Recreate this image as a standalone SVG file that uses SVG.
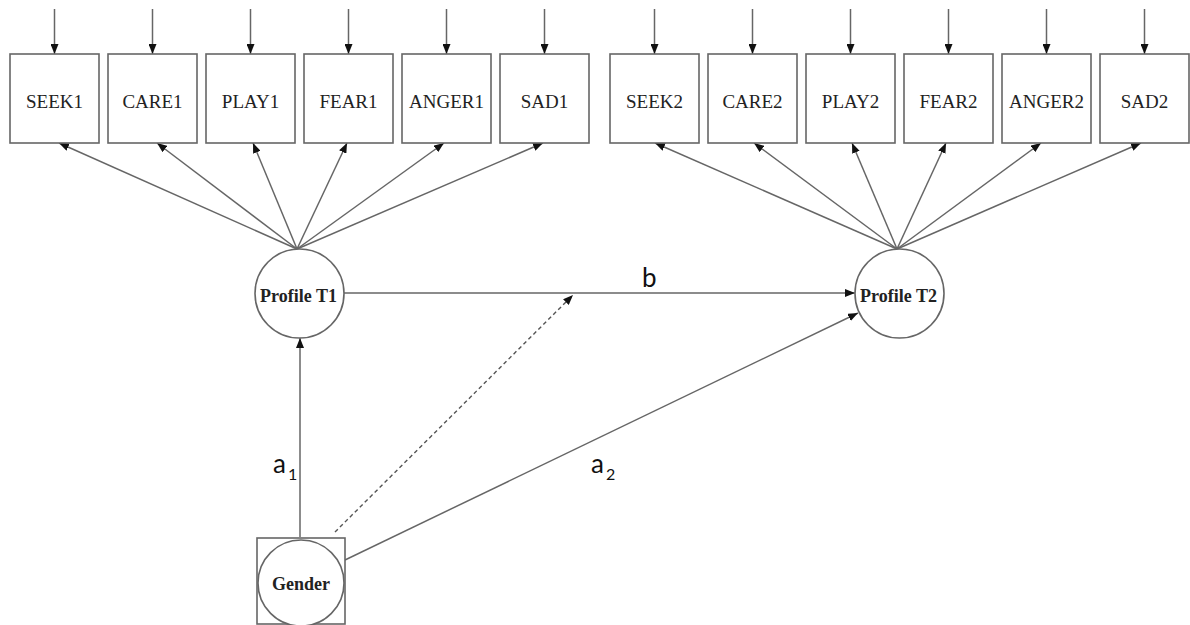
<svg xmlns="http://www.w3.org/2000/svg" width="1190" height="625" viewBox="0 0 1190 625">
<style>
.box{fill:#fff;stroke:#666;stroke-width:1.6}
.lat{fill:#fff;stroke:#666;stroke-width:1.6}
.ln{fill:none;stroke:#666;stroke-width:1.5}
.dash{fill:none;stroke:#555;stroke-width:1.4;stroke-dasharray:4 3}
.ind{font-family:"Liberation Serif","Times New Roman",serif;font-size:19px;fill:#222;text-anchor:middle}
.latt{font-family:"Liberation Serif","Times New Roman",serif;font-size:18px;font-weight:bold;fill:#222;text-anchor:middle}
.pl{font-family:Lato,"Open Sans",sans-serif;font-size:26px;fill:#111}
.sub{font-family:Lato,"Open Sans",sans-serif;font-size:16px;fill:#111}
</style>
<defs>
<marker id="ah" markerWidth="10" markerHeight="8" refX="10" refY="4" orient="auto" markerUnits="userSpaceOnUse">
<path d="M0,0 L10,4 L0,8 z" fill="#111"/>
</marker>
</defs>

<g id="connectors">
<!-- error arrows -->
<line class="ln" x1="54.5" y1="9" x2="54.5" y2="54" marker-end="url(#ah)"/>
<line class="ln" x1="152.5" y1="9" x2="152.5" y2="54" marker-end="url(#ah)"/>
<line class="ln" x1="250.5" y1="9" x2="250.5" y2="54" marker-end="url(#ah)"/>
<line class="ln" x1="348.5" y1="9" x2="348.5" y2="54" marker-end="url(#ah)"/>
<line class="ln" x1="446.5" y1="9" x2="446.5" y2="54" marker-end="url(#ah)"/>
<line class="ln" x1="544.5" y1="9" x2="544.5" y2="54" marker-end="url(#ah)"/>
<line class="ln" x1="654.5" y1="9" x2="654.5" y2="54" marker-end="url(#ah)"/>
<line class="ln" x1="752.5" y1="9" x2="752.5" y2="54" marker-end="url(#ah)"/>
<line class="ln" x1="850.5" y1="9" x2="850.5" y2="54" marker-end="url(#ah)"/>
<line class="ln" x1="948.5" y1="9" x2="948.5" y2="54" marker-end="url(#ah)"/>
<line class="ln" x1="1046.5" y1="9" x2="1046.5" y2="54" marker-end="url(#ah)"/>
<line class="ln" x1="1144.5" y1="9" x2="1144.5" y2="54" marker-end="url(#ah)"/>
<!-- loadings T1 -->
<line class="ln" x1="297" y1="249" x2="59" y2="143" marker-end="url(#ah)"/>
<line class="ln" x1="297" y1="249" x2="157" y2="143" marker-end="url(#ah)"/>
<line class="ln" x1="297" y1="249" x2="253" y2="143" marker-end="url(#ah)"/>
<line class="ln" x1="297" y1="249" x2="347" y2="143" marker-end="url(#ah)"/>
<line class="ln" x1="297" y1="249" x2="444" y2="143" marker-end="url(#ah)"/>
<line class="ln" x1="297" y1="249" x2="543" y2="143" marker-end="url(#ah)"/>
<!-- loadings T2 -->
<line class="ln" x1="897" y1="249" x2="655" y2="143" marker-end="url(#ah)"/>
<line class="ln" x1="897" y1="249" x2="754" y2="143" marker-end="url(#ah)"/>
<line class="ln" x1="897" y1="249" x2="852" y2="143" marker-end="url(#ah)"/>
<line class="ln" x1="897" y1="249" x2="946" y2="143" marker-end="url(#ah)"/>
<line class="ln" x1="897" y1="249" x2="1041" y2="143" marker-end="url(#ah)"/>
<line class="ln" x1="897" y1="249" x2="1141" y2="143" marker-end="url(#ah)"/>
<!-- structural paths -->
<line class="ln" x1="344" y1="293" x2="855" y2="293" marker-end="url(#ah)"/>
<line class="ln" x1="300" y1="537" x2="300" y2="338" marker-end="url(#ah)"/>
<line class="ln" x1="345" y1="560" x2="858" y2="313" marker-end="url(#ah)"/>
<line class="dash" x1="335" y1="532" x2="573" y2="295" marker-end="url(#ah)"/>
<text class="pl" x="642" y="287">b</text>
<text class="pl" x="273" y="473">a</text><text class="sub" x="288" y="480">1</text>
<text class="pl" x="591" y="473">a</text><text class="sub" x="606" y="480">2</text>
</g>

<g id="SEEK1"><rect class="box" x="10" y="54" width="89" height="89"/><text class="ind" x="54.5" y="108">SEEK1</text></g>
<g id="CARE1"><rect class="box" x="108" y="54" width="89" height="89"/><text class="ind" x="152.5" y="108">CARE1</text></g>
<g id="PLAY1"><rect class="box" x="206" y="54" width="89" height="89"/><text class="ind" x="250.5" y="108">PLAY1</text></g>
<g id="FEAR1"><rect class="box" x="304" y="54" width="89" height="89"/><text class="ind" x="348.5" y="108">FEAR1</text></g>
<g id="ANGER1"><rect class="box" x="402" y="54" width="89" height="89"/><text class="ind" x="446.5" y="108">ANGER1</text></g>
<g id="SAD1"><rect class="box" x="500" y="54" width="89" height="89"/><text class="ind" x="544.5" y="108">SAD1</text></g>

<g id="SEEK2"><rect class="box" x="610" y="54" width="89" height="89"/><text class="ind" x="654.5" y="108">SEEK2</text></g>
<g id="CARE2"><rect class="box" x="708" y="54" width="89" height="89"/><text class="ind" x="752.5" y="108">CARE2</text></g>
<g id="PLAY2"><rect class="box" x="806" y="54" width="89" height="89"/><text class="ind" x="850.5" y="108">PLAY2</text></g>
<g id="FEAR2"><rect class="box" x="904" y="54" width="89" height="89"/><text class="ind" x="948.5" y="108">FEAR2</text></g>
<g id="ANGER2"><rect class="box" x="1002" y="54" width="89" height="89"/><text class="ind" x="1046.5" y="108">ANGER2</text></g>
<g id="SAD2"><rect class="box" x="1100" y="54" width="89" height="89"/><text class="ind" x="1144.5" y="108">SAD2</text></g>

<g id="ProfileT1"><circle class="lat" cx="299.5" cy="293.5" r="44.5"/><text class="latt" x="298.5" y="302">Profile T1</text></g>
<g id="ProfileT2"><circle class="lat" cx="899.5" cy="293.5" r="44.5"/><text class="latt" x="898.5" y="302">Profile T2</text></g>

<g id="Gender"><rect class="box" x="257" y="538" width="88" height="86"/><circle class="lat" cx="301" cy="583" r="43"/><text class="latt" x="301" y="590">Gender</text></g>
</svg>
